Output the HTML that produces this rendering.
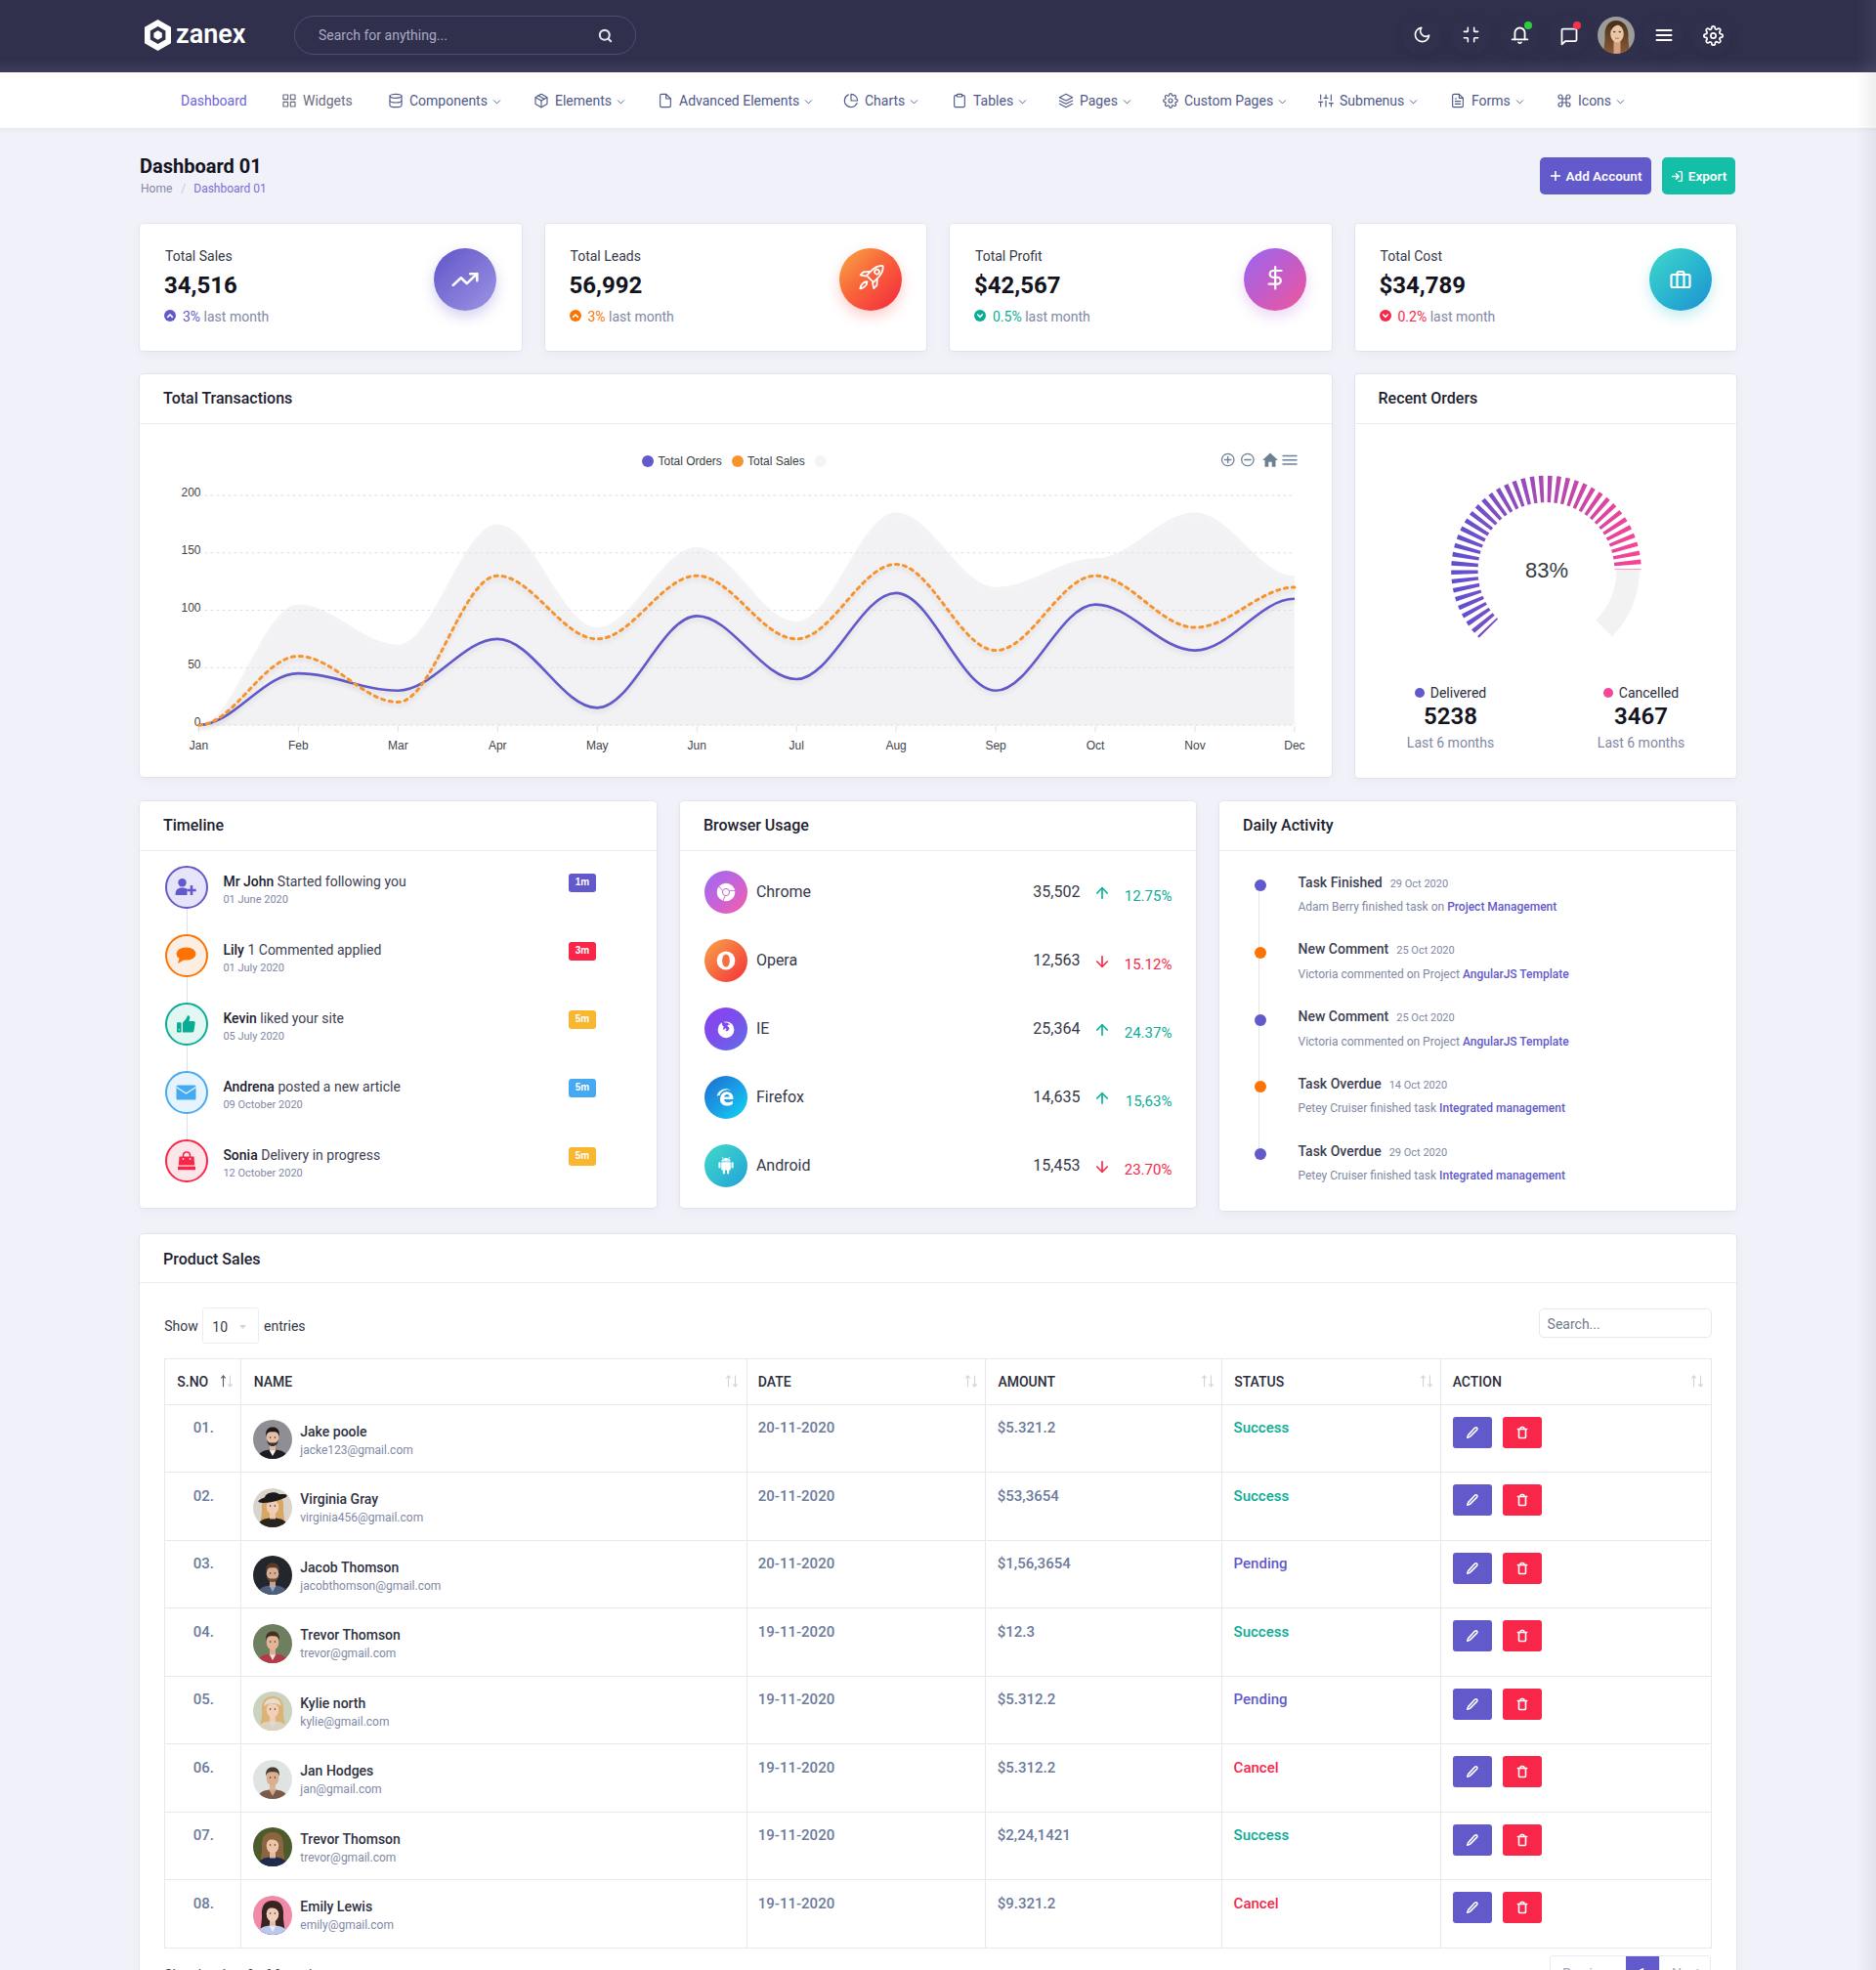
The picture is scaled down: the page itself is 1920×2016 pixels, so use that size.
<!DOCTYPE html>
<html><head><meta charset="utf-8"><title>Zanex Dashboard</title>
<style>
*{box-sizing:border-box;margin:0;padding:0}
html,body{width:1920px;height:2016px;overflow:hidden}
body{background:#f1f1f9;font-family:Roboto,"Liberation Sans",sans-serif;color:#1d212f;position:relative;font-size:14px}
.abs{position:absolute}
svg.fi{fill:none;stroke:currentColor;stroke-width:2;stroke-linecap:round;stroke-linejoin:round;display:block}
/* header */
#hdr{position:absolute;left:0;top:0;width:1920px;height:73.5px;background:linear-gradient(180deg,#30304d 0,#30304d 61px,#3e3b5a 73.5px)}
#logo{position:absolute;left:148px;top:20px;display:flex;align-items:center}
#logo span{color:#fff;font-size:27px;font-weight:600;letter-spacing:0;margin-left:5px;line-height:1;position:relative;top:-1px}
#search{position:absolute;left:301px;top:16px;width:350px;height:40px;border:1px solid #4f4f6e;border-radius:20px;}
#search .ph{position:absolute;left:24px;top:11px;font-size:14px;color:#a9a9c2}
#search svg{position:absolute;left:309px;top:11px;color:#e2e2ef}
.hi{position:absolute;top:16px;width:40px;height:40px;border-radius:50%;box-shadow:0 4px 12px rgba(0,0,0,0.08)}
.hi svg{position:absolute;left:11px;top:10px;color:#fff}
.dot{position:absolute;width:8px;height:8px;border-radius:50%}
/* nav */
#nav{position:absolute;left:0;top:73.5px;width:1920px;height:57.5px;background:#fff;box-shadow:0 2px 5px rgba(110,110,140,0.08)}
.ni{position:absolute;top:0;height:58px;padding-top:1.5px;display:flex;align-items:center;color:#4f5888;font-size:14px;white-space:nowrap}
.ni svg.ic{width:16px;height:16px;margin-right:6px;stroke-width:1.7}
.ni svg.ch{width:11px;height:11px;margin-left:4px;margin-top:2px;stroke-width:2}

.card{position:absolute;background:#fff;border-radius:4px;box-shadow:0 0 0 1px rgba(214,214,228,0.45),0 3px 10px rgba(140,140,180,0.08)}
.ch2{position:absolute;left:0;top:0;right:0;height:51px;border-bottom:1px solid #ebebf0}
.ch2 .t{position:absolute;left:24px;top:15px;font-size:16px;font-weight:500;color:#1d212f;line-height:20px}
.t14{font-size:14px;line-height:16px;position:absolute;white-space:nowrap}
.stat .lbl{position:absolute;left:26px;top:23px;font-size:14px;color:#353846;line-height:20px}
.stat .val{position:absolute;left:25px;top:48px;font-size:24px;font-weight:700;color:#14141f;line-height:30px}
.stat .sub{position:absolute;left:44px;top:84.5px;font-size:14px;color:#7f88a4;line-height:20px;white-space:nowrap}
.stat .si{position:absolute;left:25px;top:88px;width:12px;height:12px;border-radius:50%}
.stat .si svg{position:absolute;left:2px;top:2px}
.stat .ic{position:absolute;left:301px;top:25px;width:64px;height:64px;border-radius:50%}
.stat .ic svg{position:absolute;left:20px;top:20px}
.btn{position:absolute;height:38px;border-radius:5px;color:#fff;font-size:13.5px;font-weight:600;display:flex;align-items:center;justify-content:center;white-space:nowrap}

.leg{position:absolute;text-align:center;width:194px;white-space:nowrap}
.leg .a{font-size:14px;line-height:16px;color:#2b2d3b}
.leg .a i{display:inline-block;width:10px;height:10px;border-radius:50%;margin-right:6px;vertical-align:0px}
.leg .b{font-size:24px;font-weight:600;line-height:26px;color:#14141f;margin-top:2.5px}
.leg .c{font-size:14px;line-height:16px;color:#7f88a4;margin-top:6.5px}

.tlc{width:44.5px;height:44.5px;border:2px solid;border-radius:50%;display:flex;align-items:center;justify-content:center}
.tlt{font-size:14px;line-height:16px;color:#3d4052;white-space:nowrap}
.tlt b{font-weight:500;color:#1d212f}
.tld{font-size:11px;line-height:13px;color:#7f88a4;white-space:nowrap}
.tlb{width:28.7px;height:18.6px;border-radius:3px;color:#fff;font:bold 10px/18.6px "Liberation Sans",Arial,sans-serif;text-align:center}
.buc{width:44.5px;height:44.5px;border-radius:50%;display:flex;align-items:center;justify-content:center}
.bun,.buv{font-size:16px;line-height:18px;color:#363949;white-space:nowrap}
.bup{font-size:15px;line-height:18px;white-space:nowrap}
.dad{width:12px;height:12px;border-radius:50%}
.dat{font-size:14px;font-weight:500;line-height:16px;color:#3d4052;white-space:nowrap}
.dat span{font-size:11px;font-weight:400;color:#7f88a4;margin-left:8px}
.dax{font-size:12px;line-height:14px;color:#7f88a4;white-space:nowrap}
.dax a{color:#6259ca;font-weight:500}

.th{font-size:14px;font-weight:500;line-height:16px;color:#2b2d3b;white-space:nowrap}
.tno,.tdt,.tst{font-size:15px;font-weight:500;line-height:18px;color:#6c7a9c;white-space:nowrap}
.tnm{font-size:14px;font-weight:500;line-height:16px;color:#2f3242;white-space:nowrap}
.tem{font-size:12px;line-height:14px;color:#7f88a4;white-space:nowrap}
.abtn{width:40px;height:32px;border-radius:3px;display:flex;align-items:center;justify-content:center}
</style></head>
<body>
<div id="hdr">
  <div id="logo">
    <svg width="27" height="32" viewBox="0 0 27 32"><path fill="#fff" fill-rule="evenodd" d="M13.5 0 L27 7.8 V24.2 L13.5 32 L0 24.2 V7.8 Z M13.6 7 L21.4 11.5 V20.5 L13.6 25 L5.8 20.5 V11.5 Z M13.6 11.3 L17.8 13.7 V18.3 L13.6 20.7 L9.4 18.3 V13.7 Z"/></svg>
    <span>zanex</span>
  </div>
  <div id="search"><div class="ph">Search for anything...</div>
    <svg class="fi" width="17" height="17" viewBox="0 0 24 24" style="stroke-width:3"><circle cx="11" cy="11" r="7"/><line x1="20" y1="20" x2="16.2" y2="16.2"/></svg>
  </div>
  <div class="hi" style="left:1435px"><svg class="fi" width="19" height="19" viewBox="0 0 24 24"><path d="M21 12.79A9 9 0 1 1 11.21 3 7 7 0 0 0 21 12.79z"/></svg></div>
  <div class="hi" style="left:1485px"><svg class="fi" width="19" height="19" viewBox="0 0 24 24"><path d="M8 3v4a1 1 0 0 1-1 1H3m18 0h-4a1 1 0 0 1-1-1V3m0 18v-4a1 1 0 0 1 1-1h4M3 16h4a1 1 0 0 1 1 1v4"/></svg></div>
  <div class="hi" style="left:1535px"><svg class="fi" width="21" height="21" viewBox="0 0 24 24" style="left:9.5px;top:9px;stroke-width:2.1"><path d="M6.2 17.5V9.8a5.8 5.8 0 0 1 11.6 0v7.7"/><line x1="3" y1="17.5" x2="21" y2="17.5"/><path d="M10.4 21a1.9 1.9 0 0 0 3.2 0"/></svg><div class="dot" style="left:25px;top:6px;background:#2dce3c"></div></div>
  <div class="hi" style="left:1585px"><svg class="fi" width="20" height="20" viewBox="0 0 24 24" style="left:10.5px;top:11px;stroke-width:2.1"><path d="M21 16.5a1.5 1.5 0 0 1-1.5 1.5H7.5L3 22V4.5A1.5 1.5 0 0 1 4.5 3h15A1.5 1.5 0 0 1 21 4.5z"/></svg><div class="dot" style="left:25px;top:6px;background:#f5334f"></div></div>
  <svg class="abs" style="left:1635px;top:16.5px" width="38" height="38" viewBox="0 0 38 38"><defs><clipPath id="avc"><circle cx="19" cy="19" r="19"/></clipPath><linearGradient id="hairg" x1="0" y1="0" x2="0" y2="1"><stop offset="0" stop-color="#4a301d"/><stop offset="1" stop-color="#8a5a32"/></linearGradient></defs><g clip-path="url(#avc)"><rect width="38" height="38" fill="#9c9c9a"/><path d="M19 4 C10 4 7 12 7.5 20 C8 28 5 33 8 38 H31 C34 33 31 28 31.5 20 C32 12 28 4 19 4Z" fill="url(#hairg)"/><rect x="16.5" y="24" width="7" height="14" fill="#d4a283"/><ellipse cx="20" cy="17.5" rx="6.8" ry="9" fill="#e8c6a6"/><ellipse cx="17.2" cy="15.6" rx="1.3" ry="0.8" fill="#5a4035"/><ellipse cx="22.8" cy="15.6" rx="1.3" ry="0.8" fill="#5a4035"/><ellipse cx="20" cy="22.2" rx="2.2" ry="0.9" fill="#c98a86"/><path d="M12 8 C15 5 24 5 27 9 C24 7 17 8 14 14 Z" fill="#4a301d"/></g></svg>
  <div class="hi" style="left:1682px"><svg class="fi" width="20" height="20" viewBox="0 0 24 24" style="stroke-width:2.4"><line x1="3" y1="6" x2="21" y2="6"/><line x1="3" y1="12" x2="21" y2="12"/><line x1="3" y1="18" x2="21" y2="18"/></svg></div>
  <div class="hi" style="left:1732px"><svg class="fi" width="21" height="21" viewBox="0 0 24 24"><circle cx="12" cy="12" r="3"/><path d="M19.4 15a1.65 1.65 0 0 0 .33 1.82l.06.06a2 2 0 0 1 0 2.830 2 2 0 0 1-2.83 0l-.06-.06a1.65 1.65 0 0 0-1.82-.33 1.65 1.65 0 0 0-1 1.51V21a2 2 0 0 1-2 2 2 2 0 0 1-2-2v-.09A1.65 1.65 0 0 0 9 19.4a1.65 1.65 0 0 0-1.82.33l-.06.06a2 2 0 0 1-2.83 0 2 2 0 0 1 0-2.83l.06-.06a1.65 1.650 0 0 0 .33-1.82 1.65 1.65 0 0 0-1.51-1H3a2 2 0 0 1-2-2 2 2 0 0 1 2-2h.09A1.65 1.65 0 0 0 4.6 9a1.65 1.65 0 0 0-.33-1.82l-.06-.06a2 2 0 0 1 0-2.83 2 2 0 0 1 2.83 0l.06.06a1.65 1.65 0 0 0 1.82.33H9a1.65 1.65 0 0 0 1-1.51V3a2 2 0 0 1 2-2 2 2 0 0 1 2 2v.09a1.65 1.65 0 0 0 1 1.51 1.65 1.65 0 0 0 1.82-.33l.06-.06a2 2 0 0 1 2.83 0 2 2 0 0 1 0 2.83l-.06.06a1.65 1.65 0 0 0-.33 1.82V9a1.65 1.65 0 0 0 1.51 1H21a2 2 0 0 1 2 2 2 2 0 0 1-2 2h-.09a1.65 1.65 0 0 0-1.51 1z"/></svg></div>
</div>

<div id="nav">
  <div class="ni" style="left:185px;color:#6a62d6">Dashboard</div>
  <div class="ni" style="left:288px;color:#686b80"><svg class="fi ic" viewBox="0 0 24 24"><rect x="3" y="3" width="7" height="7"/><rect x="14" y="3" width="7" height="7"/><rect x="14" y="14" width="7" height="7"/><rect x="3" y="14" width="7" height="7"/></svg>Widgets</div>
  <div class="ni" style="left:397px"><svg class="fi ic" viewBox="0 0 24 24"><ellipse cx="12" cy="5" rx="9" ry="3"/><path d="M21 12c0 1.66-4 3-9 3s-9-1.34-9-3"/><path d="M3 5v14c0 1.66 4 3 9 3s9-1.34 9-3V5"/></svg>Components<svg class="fi ch" viewBox="0 0 24 24"><polyline points="5 8 12 15 19 8"/></svg></div>
  <div class="ni" style="left:546px"><svg class="fi ic" viewBox="0 0 24 24"><line x1="16.5" y1="9.4" x2="7.5" y2="4.21"/><path d="M21 16V8a2 2 0 0 0-1-1.73l-7-4a2 2 0 0 0-2 0l-7 4A2 2 0 0 0 3 8v8a2 2 0 0 0 1 1.73l7 4a2 2 0 0 0 2 0l7-4A2 2 0 0 0 21 16z"/><polyline points="3.27 6.96 12 12.01 20.73 6.96"/><line x1="12" y1="22.08" x2="12" y2="12"/></svg>Elements<svg class="fi ch" viewBox="0 0 24 24"><polyline points="5 8 12 15 19 8"/></svg></div>
  <div class="ni" style="left:673px"><svg class="fi ic" viewBox="0 0 24 24"><path d="M13 2H6a2 2 0 0 0-2 2v16a2 2 0 0 0 2 2h12a2 2 0 0 0 2-2V9z"/><polyline points="13 2 13 9 20 9"/></svg>Advanced Elements<svg class="fi ch" viewBox="0 0 24 24"><polyline points="5 8 12 15 19 8"/></svg></div>
  <div class="ni" style="left:863px"><svg class="fi ic" viewBox="0 0 24 24"><path d="M21.21 15.89A10 10 0 1 1 8 2.83"/><path d="M22 12A10 10 0 0 0 12 2v10z"/></svg>Charts<svg class="fi ch" viewBox="0 0 24 24"><polyline points="5 8 12 15 19 8"/></svg></div>
  <div class="ni" style="left:974px"><svg class="fi ic" viewBox="0 0 24 24"><path d="M16 4h2a2 2 0 0 1 2 2v14a2 2 0 0 1-2 2H6a2 2 0 0 1-2-2V6a2 2 0 0 1 2-2h2"/><rect x="8" y="2" width="8" height="4" rx="1" ry="1"/></svg>Tables<svg class="fi ch" viewBox="0 0 24 24"><polyline points="5 8 12 15 19 8"/></svg></div>
  <div class="ni" style="left:1083px"><svg class="fi ic" viewBox="0 0 24 24"><polygon points="12 2 2 7 12 12 22 7 12 2"/><polyline points="2 17 12 22 22 17"/><polyline points="2 12 12 17 22 12"/></svg>Pages<svg class="fi ch" viewBox="0 0 24 24"><polyline points="5 8 12 15 19 8"/></svg></div>
  <div class="ni" style="left:1190px"><svg class="fi ic" viewBox="0 0 24 24"><circle cx="12" cy="12" r="3"/><path d="M19.4 15a1.65 1.65 0 0 0 .33 1.82l.06.06a2 2 0 0 1 0 2.83 2 2 0 0 1-2.83 0l-.06-.06a1.65 1.65 0 0 0-1.82-.33 1.65 1.65 0 0 0-1 1.51V21a2 2 0 0 1-2 2 2 2 0 0 1-2-2v-.09A1.65 1.65 0 0 0 9 19.4a1.65 1.65 0 0 0-1.82.33l-.06.06a2 2 0 0 1-2.83 0 2 2 0 0 1 0-2.83l.06-.06a1.65 1.65 0 0 0 .33-1.82 1.65 1.65 0 0 0-1.51-1H3a2 2 0 0 1-2-2 2 2 0 0 1 2-2h.09A1.65 1.65 0 0 0 4.6 9a1.65 1.65 0 0 0-.33-1.82l-.06-.06a2 2 0 0 1 0-2.83 2 2 0 0 1 2.83 0l.06.06a1.65 1.65 0 0 0 1.82.33H9a1.65 1.65 0 0 0 1-1.51V3a2 2 0 0 1 2-2 2 2 0 0 1 2 2v.09a1.65 1.65 0 0 0 1 1.51 1.65 1.65 0 0 0 1.82-.33l.06-.06a2 2 0 0 1 2.83 0 2 2 0 0 1 0 2.83l-.06.06a1.65 1.65 0 0 0-.33 1.82V9a1.65 1.65 0 0 0 1.51 1H21a2 2 0 0 1 2 2 2 2 0 0 1-2 2h-.09a1.65 1.65 0 0 0-1.51 1z"/></svg>Custom Pages<svg class="fi ch" viewBox="0 0 24 24"><polyline points="5 8 12 15 19 8"/></svg></div>
  <div class="ni" style="left:1349px"><svg class="fi ic" viewBox="0 0 24 24"><line x1="4" y1="21" x2="4" y2="14"/><line x1="4" y1="10" x2="4" y2="3"/><line x1="12" y1="21" x2="12" y2="12"/><line x1="12" y1="8" x2="12" y2="3"/><line x1="20" y1="21" x2="20" y2="16"/><line x1="20" y1="12" x2="20" y2="3"/><line x1="1" y1="14" x2="7" y2="14"/><line x1="9" y1="8" x2="15" y2="8"/><line x1="17" y1="16" x2="23" y2="16"/></svg>Submenus<svg class="fi ch" viewBox="0 0 24 24"><polyline points="5 8 12 15 19 8"/></svg></div>
  <div class="ni" style="left:1484px"><svg class="fi ic" viewBox="0 0 24 24"><path d="M14 2H6a2 2 0 0 0-2 2v16a2 2 0 0 0 2 2h12a2 2 0 0 0 2-2V8z"/><polyline points="14 2 14 8 20 8"/><line x1="16" y1="13" x2="8" y2="13"/><line x1="16" y1="17" x2="8" y2="17"/><polyline points="10 9 9 9 8 9"/></svg>Forms<svg class="fi ch" viewBox="0 0 24 24"><polyline points="5 8 12 15 19 8"/></svg></div>
  <div class="ni" style="left:1593px"><svg class="fi ic" viewBox="0 0 24 24"><path d="M18 3a3 3 0 0 0-3 3v12a3 3 0 0 0 3 3 3 3 0 0 0 3-3 3 3 0 0 0-3-3H6a3 3 0 0 0-3 3 3 3 0 0 0 3 3 3 3 0 0 0 3-3V6a3 3 0 0 0-3-3 3 3 0 0 0-3 3 3 3 0 0 0 3 3h12a3 3 0 0 0 3-3 3 3 0 0 0-3-3z"/></svg>Icons<svg class="fi ch" viewBox="0 0 24 24"><polyline points="5 8 12 15 19 8"/></svg></div>
</div>


<!-- page header -->
<div class="abs" style="left:143px;top:158px;font-size:20px;font-weight:700;line-height:24px;color:#14141f">Dashboard 01</div>
<div class="abs" style="left:144px;top:186px;font-size:12px;line-height:15px;color:#8289a6;white-space:nowrap">Home<span style="color:#c9cbd9;margin:0 8px 0 9px">/</span><span style="color:#7770d6">Dashboard 01</span></div>
<div class="btn" style="left:1576px;top:161px;width:114px;background:#6259ca"><svg class="fi" width="12" height="12" viewBox="0 0 24 24" style="stroke-width:3.2;margin-right:5px;stroke-linecap:butt"><line x1="12" y1="2" x2="12" y2="22"/><line x1="2" y1="12" x2="22" y2="12"/></svg>Add Account</div>
<div class="btn" style="left:1701px;top:161px;width:75px;background:#13bfa6"><svg class="fi" width="13" height="13" viewBox="0 0 24 24" style="stroke-width:2.6;margin-right:5px"><path d="M15 3h4a2 2 0 0 1 2 2v14a2 2 0 0 1-2 2h-4"/><polyline points="10 17 15 12 10 7"/><line x1="15" y1="12" x2="3" y2="12"/></svg>Export</div>

<!-- stat cards -->
<div class="card stat" style="left:143px;top:229px;width:390.5px;height:130px">
  <div class="lbl">Total Sales</div><div class="val">34,516</div>
  <div class="si" style="background:#6259ca"><svg class="fi" width="8" height="8" viewBox="0 0 24 24" style="color:#fff;stroke-width:5"><polyline points="5 16 12 9 19 16"/></svg></div>
  <div class="sub"><span style="color:#6259ca">3%</span> last month</div>
  <div class="ic" style="background:linear-gradient(135deg,#5f55c8 0%,#9e95e4 100%);box-shadow:0 6px 14px rgba(98,89,202,0.28)"><svg class="fi" width="28" height="28" viewBox="0 0 24 24" style="color:#fff;stroke-width:2.2;margin:-2px 0 0 -2px"><polyline points="22.5 7 13.5 15.5 8.5 10.5 1.5 17"/><polyline points="16.5 7 22.5 7 22.5 13"/></svg></div>
</div>
<div class="card stat" style="left:557.5px;top:229px;width:390.5px;height:130px">
  <div class="lbl">Total Leads</div><div class="val">56,992</div>
  <div class="si" style="background:#fc7303"><svg class="fi" width="8" height="8" viewBox="0 0 24 24" style="color:#fff;stroke-width:5"><polyline points="5 16 12 9 19 16"/></svg></div>
  <div class="sub"><span style="color:#fc7303">3%</span> last month</div>
  <div class="ic" style="background:linear-gradient(135deg,#f9a843 0%,#f9653a 45%,#f3263e 100%);box-shadow:0 6px 14px rgba(247,80,60,0.28)"><svg class="fi" width="27" height="27" viewBox="0 0 27 27" style="color:#fff;stroke-width:1.6;position:absolute;left:19px;top:15.5px"><g transform="translate(25.6 2.1) rotate(45) scale(1.13)"><path d="M0 0 C3.6 2.6 4.4 7 4.4 11.5 V16.5 H-4.4 V11.5 C-4.4 7 -3.6 2.6 0 0 Z"/><circle cx="0" cy="7.6" r="2.1"/><path d="M-4.4 11.6 L-8.6 16.4 V20.2 L-4.4 17.6"/><path d="M4.4 11.6 L8.6 16.4 V20.2 L4.4 17.6"/><path d="M0 20.2 C2 22.4 2.1 26 0 29.2 C-2.1 26 -2 22.4 0 20.2 Z"/></g></svg></div>
</div>
<div class="card stat" style="left:972px;top:229px;width:390.5px;height:130px">
  <div class="lbl">Total Profit</div><div class="val">$42,567</div>
  <div class="si" style="background:#09ad95"><svg class="fi" width="8" height="8" viewBox="0 0 24 24" style="color:#fff;stroke-width:5"><polyline points="5 9 12 16 19 9"/></svg></div>
  <div class="sub"><span style="color:#09ad95">0.5%</span> last month</div>
  <div class="ic" style="background:linear-gradient(135deg,#9a66f2 0%,#c35cc7 50%,#f0579b 100%);box-shadow:0 6px 14px rgba(180,90,220,0.25)"><svg class="fi" width="24" height="24" viewBox="0 0 24 24" style="color:#fff;stroke-width:2.2;overflow:visible"><line x1="12.2" y1="-1" x2="12.2" y2="21.6"/><path d="M18.6 3H10a3.4 3.4 0 0 0 0 6.8h4.4a3.4 3.4 0 0 1 0 6.8H5.6"/></svg></div>
</div>
<div class="card stat" style="left:1386.5px;top:229px;width:390.5px;height:130px">
  <div class="lbl">Total Cost</div><div class="val">$34,789</div>
  <div class="si" style="background:#f82649"><svg class="fi" width="8" height="8" viewBox="0 0 24 24" style="color:#fff;stroke-width:5"><polyline points="5 9 12 16 19 9"/></svg></div>
  <div class="sub"><span style="color:#f82649">0.2%</span> last month</div>
  <div class="ic" style="background:linear-gradient(135deg,#40d8c9 0%,#28b3d0 55%,#1e8fd0 100%);box-shadow:0 6px 14px rgba(40,190,210,0.28)"><svg class="fi" width="24" height="24" viewBox="0 0 24 24" style="color:#fff;stroke-width:2.2"><rect x="2.5" y="7" width="19" height="13" rx="1.5"/><path d="M15.5 20V5.5a1.5 1.5 0 0 0-1.5-1.5h-4a1.5 1.5 0 0 0-1.5 1.5V20"/></svg></div>
</div>

<!-- row 2 -->
<div class="card" style="left:143px;top:383px;width:1219.5px;height:412px;overflow:hidden">
  <div class="ch2"><div class="t">Total Transactions</div></div>
  <svg class="abs" style="left:0;top:0" width="1219.5" height="412" viewBox="143 383 1219.5 412">
<defs><filter id="lsh" x="-5%" y="-20%" width="110%" height="140%"><feDropShadow dx="0" dy="3" stdDeviation="2" flood-color="#000" flood-opacity="0.09"/></filter>
<filter id="ash" x="-5%" y="-20%" width="110%" height="140%"><feDropShadow dx="0" dy="3" stdDeviation="3" flood-color="#000" flood-opacity="0.03"/></filter></defs>
<line x1="203.4" y1="742.00" x2="1325.0" y2="742.00" stroke="#dedee6" stroke-width="1" stroke-dasharray="3 3"/><line x1="203.4" y1="683.25" x2="1325.0" y2="683.25" stroke="#dedee6" stroke-width="1" stroke-dasharray="3 3"/><line x1="203.4" y1="624.50" x2="1325.0" y2="624.50" stroke="#dedee6" stroke-width="1" stroke-dasharray="3 3"/><line x1="203.4" y1="565.75" x2="1325.0" y2="565.75" stroke="#dedee6" stroke-width="1" stroke-dasharray="3 3"/><line x1="203.4" y1="507.00" x2="1325.0" y2="507.00" stroke="#dedee6" stroke-width="1" stroke-dasharray="3 3"/>
<path d="M203.40 742.00 C239.09 742.00 269.67 618.62 305.36 618.62 C341.05 618.62 371.63 659.75 407.32 659.75 C443.01 659.75 473.59 536.38 509.28 536.38 C544.97 536.38 575.55 642.12 611.24 642.12 C646.93 642.12 677.51 559.88 713.20 559.88 C748.89 559.88 779.47 636.25 815.16 636.25 C850.85 636.25 881.43 524.62 917.12 524.62 C952.81 524.62 983.39 601.00 1019.08 601.00 C1054.77 601.00 1085.35 571.62 1121.04 571.62 C1156.73 571.62 1187.31 524.62 1223.00 524.62 C1258.69 524.62 1289.27 589.25 1324.96 589.25 L1324.96 742.0 L203.40 742.0 Z" fill="#e2e2e7" fill-opacity="0.42" filter="url(#ash)"/>
<line x1="203.40" y1="743.0" x2="203.40" y2="749.0" stroke="#e0e0e6" stroke-width="1"/><line x1="305.36" y1="743.0" x2="305.36" y2="749.0" stroke="#e0e0e6" stroke-width="1"/><line x1="407.32" y1="743.0" x2="407.32" y2="749.0" stroke="#e0e0e6" stroke-width="1"/><line x1="509.28" y1="743.0" x2="509.28" y2="749.0" stroke="#e0e0e6" stroke-width="1"/><line x1="611.24" y1="743.0" x2="611.24" y2="749.0" stroke="#e0e0e6" stroke-width="1"/><line x1="713.20" y1="743.0" x2="713.20" y2="749.0" stroke="#e0e0e6" stroke-width="1"/><line x1="815.16" y1="743.0" x2="815.16" y2="749.0" stroke="#e0e0e6" stroke-width="1"/><line x1="917.12" y1="743.0" x2="917.12" y2="749.0" stroke="#e0e0e6" stroke-width="1"/><line x1="1019.08" y1="743.0" x2="1019.08" y2="749.0" stroke="#e0e0e6" stroke-width="1"/><line x1="1121.04" y1="743.0" x2="1121.04" y2="749.0" stroke="#e0e0e6" stroke-width="1"/><line x1="1223.00" y1="743.0" x2="1223.00" y2="749.0" stroke="#e0e0e6" stroke-width="1"/><line x1="1324.96" y1="743.0" x2="1324.96" y2="749.0" stroke="#e0e0e6" stroke-width="1"/>
<g font-family="'Liberation Sans',Arial,sans-serif" font-size="12" fill="#3f4449"><text x="203.40" y="766.6" text-anchor="middle">Jan</text><text x="305.36" y="766.6" text-anchor="middle">Feb</text><text x="407.32" y="766.6" text-anchor="middle">Mar</text><text x="509.28" y="766.6" text-anchor="middle">Apr</text><text x="611.24" y="766.6" text-anchor="middle">May</text><text x="713.20" y="766.6" text-anchor="middle">Jun</text><text x="815.16" y="766.6" text-anchor="middle">Jul</text><text x="917.12" y="766.6" text-anchor="middle">Aug</text><text x="1019.08" y="766.6" text-anchor="middle">Sep</text><text x="1121.04" y="766.6" text-anchor="middle">Oct</text><text x="1223.00" y="766.6" text-anchor="middle">Nov</text><text x="1324.96" y="766.6" text-anchor="middle">Dec</text><text x="205.5" y="743.20" text-anchor="end">0</text><text x="205.5" y="684.45" text-anchor="end">50</text><text x="205.5" y="625.70" text-anchor="end">100</text><text x="205.5" y="566.95" text-anchor="end">150</text><text x="205.5" y="508.20" text-anchor="end">200</text></g>
<path d="M203.40 742.00 C239.09 742.00 269.67 689.12 305.36 689.12 C341.05 689.12 371.63 706.75 407.32 706.75 C443.01 706.75 473.59 653.88 509.28 653.88 C544.97 653.88 575.55 724.38 611.24 724.38 C646.93 724.38 677.51 630.38 713.20 630.38 C748.89 630.38 779.47 695.00 815.16 695.00 C850.85 695.00 881.43 606.88 917.12 606.88 C952.81 606.88 983.39 706.75 1019.08 706.75 C1054.77 706.75 1085.35 618.62 1121.04 618.62 C1156.73 618.62 1187.31 665.62 1223.00 665.62 C1258.69 665.62 1289.27 612.75 1324.96 612.75" fill="none" stroke="#6259ca" stroke-width="2.6" filter="url(#lsh)"/>
<path d="M203.40 742.00 C239.09 742.00 269.67 671.50 305.36 671.50 C341.05 671.50 371.63 718.50 407.32 718.50 C443.01 718.50 473.59 589.25 509.28 589.25 C544.97 589.25 575.55 653.88 611.24 653.88 C646.93 653.88 677.51 589.25 713.20 589.25 C748.89 589.25 779.47 653.88 815.16 653.88 C850.85 653.88 881.43 577.50 917.12 577.50 C952.81 577.50 983.39 665.62 1019.08 665.62 C1054.77 665.62 1085.35 589.25 1121.04 589.25 C1156.73 589.25 1187.31 642.12 1223.00 642.12 C1258.69 642.12 1289.27 601.00 1324.96 601.00" fill="none" stroke="#f7932f" stroke-width="3" stroke-dasharray="3.2 4.8" stroke-linecap="round" filter="url(#lsh)"/>
<g font-family="'Liberation Sans',Arial,sans-serif" font-size="12" fill="#373d3f">
<circle cx="663" cy="472" r="6" fill="#6259ca"/><text x="673.5" y="476.2">Total Orders</text>
<circle cx="755" cy="472" r="6" fill="#f7932f"/><text x="765" y="476.2">Total Sales</text>
<circle cx="839.5" cy="472" r="6" fill="#f4f4f6"/></g>
<g stroke="#6e8192" fill="none" stroke-width="1.3"><circle cx="1256.7" cy="470.5" r="6.2"/><line x1="1253" y1="470.5" x2="1260.4" y2="470.5"/><line x1="1256.7" y1="466.8" x2="1256.7" y2="474.2"/>
<circle cx="1276.9" cy="470.5" r="6.2"/><line x1="1273.2" y1="470.5" x2="1280.6" y2="470.5"/></g>
<path d="M1300 463.5 L1292 471 L1294.5 471 L1294.5 477.7 L1298.3 477.7 L1298.3 472.8 L1301.7 472.8 L1301.7 477.7 L1305.5 477.7 L1305.5 471 L1308 471 Z" fill="#6e8192"/>
<g stroke="#6e8192" stroke-width="1.6"><line x1="1312.5" y1="466.5" x2="1327.5" y2="466.5"/><line x1="1312.5" y1="470.8" x2="1327.5" y2="470.8"/><line x1="1312.5" y1="475" x2="1327.5" y2="475"/></g>
</svg>
</div>
<div class="card" style="left:1386.5px;top:383px;width:390.5px;height:413px;overflow:hidden">
  <div class="ch2"><div class="t">Recent Orders</div></div>
  <svg class="abs" style="left:0;top:0" width="390.5" height="413" viewBox="1386.5 383 390.5 413">
<defs><linearGradient id="rg" gradientUnits="userSpaceOnUse" x1="1484" y1="0" x2="1681" y2="0"><stop offset="0" stop-color="#5a50d2"/><stop offset="1" stop-color="#fe4392"/></linearGradient></defs>
<path d="M1665.59 582.69 A83.6 83.6 0 0 1 1641.11 643.11" fill="none" stroke="#f2f2f2" stroke-width="23.6"/>
<path d="M1522.89 643.11 A83.6 83.6 0 1 1 1665.59 582.69" fill="none" stroke="url(#rg)" stroke-width="27.4" stroke-dasharray="4 4" stroke-dashoffset="1.9"/>
<text x="1582.6" y="590.8" text-anchor="middle" font-family="'Liberation Sans',Arial,sans-serif" font-size="22" fill="#373d3f">83%</text>
</svg>
  <div class="leg" style="left:1px;top:318px"><div class="a"><i style="background:#6259ca"></i>Delivered</div><div class="b">5238</div><div class="c">Last 6 months</div></div>
  <div class="leg" style="left:196px;top:318px"><div class="a"><i style="background:#f5479a"></i>Cancelled</div><div class="b">3467</div><div class="c">Last 6 months</div></div>
</div>
<!-- row 3 -->
<div class="card" style="left:143px;top:819.5px;width:528.7px;height:416.5px">
<div class="ch2"><div class="t">Timeline</div></div>
<div class="abs" style="left:47.8px;top:88.5px;width:1px;height:280px;background:#dfe2ec"></div>
<div class="abs tlc" style="left:25.5px;top:66.25px;border-color:#6259ca;background:#e6e4f8"><svg width="23" height="18" viewBox="0 0 23 18"><circle cx="7.5" cy="4.3" r="4.2" fill="#6259ca"/><path d="M0.5 17 C0.5 12 2.5 9.6 7.5 9.6 C10 9.6 11.5 10.2 12.5 11 V17 Z" fill="#6259ca"/><path d="M17 7 V17 M12.3 12 H21.7" stroke="#6259ca" stroke-width="2.6" stroke-linecap="butt"/></svg></div><div class="abs tlt" style="left:85.4px;top:74.70px"><b>Mr John</b> Started following you</div><div class="abs tld" style="left:85.4px;top:94.00px">01 June 2020</div><div class="abs tlb" style="left:438.7px;top:74.60px;background:#6259ca">1m</div>
<div class="abs tlc" style="left:25.5px;top:136.25px;border-color:#fc7303;background:#fdeee3"><svg width="21" height="18" viewBox="0 0 21 18"><ellipse cx="10.5" cy="7" rx="10" ry="6.6" fill="#fc7303"/><path d="M4 11 L1.8 17 L9 13 Z" fill="#fc7303"/></svg></div><div class="abs tlt" style="left:85.4px;top:144.70px"><b>Lily</b> 1 Commented applied</div><div class="abs tld" style="left:85.4px;top:164.00px">01 July 2020</div><div class="abs tlb" style="left:438.7px;top:144.60px;background:#f82649">3m</div>
<div class="abs tlc" style="left:25.5px;top:206.25px;border-color:#09ad95;background:#e2f6f2"><svg width="19" height="18" viewBox="0 0 19 18"><rect x="0" y="7.2" width="4.6" height="10.3" rx="0.8" fill="#09ad95"/><circle cx="2.3" cy="14.8" r="0.7" fill="#e2f6f2"/><path d="M6 7.5 L9.5 3.5 C10.5 2.3 10.2 0.8 11.2 0.3 C12.6 -0.2 13.8 1.2 13.2 3.2 L12.4 6 H17 C18.2 6 19 7 18.7 8.1 L17.5 15.8 C17.3 16.8 16.5 17.5 15.5 17.5 H6 Z" fill="#09ad95"/></svg></div><div class="abs tlt" style="left:85.4px;top:214.70px"><b>Kevin</b> liked your site</div><div class="abs tld" style="left:85.4px;top:234.00px">05 July 2020</div><div class="abs tlb" style="left:438.7px;top:214.60px;background:#f7b731">5m</div>
<div class="abs tlc" style="left:25.5px;top:276.25px;border-color:#45aaf2;background:#e7f3fd"><svg width="21" height="16" viewBox="0 0 21 16"><rect x="0.5" y="0.5" width="20" height="15" rx="1.5" fill="#45aaf2"/><path d="M0.5 2.5 L10.5 9 L20.5 2.5" fill="none" stroke="#e7f3fd" stroke-width="1.4"/></svg></div><div class="abs tlt" style="left:85.4px;top:284.70px"><b>Andrena</b> posted a new article</div><div class="abs tld" style="left:85.4px;top:304.00px">09 October 2020</div><div class="abs tlb" style="left:438.7px;top:284.60px;background:#45aaf2">5m</div>
<div class="abs tlc" style="left:25.5px;top:346.25px;border-color:#f82649;background:#fde6ea"><svg width="20" height="20" viewBox="0 0 20 20"><path d="M6.5 7 V4.5 C6.5 2.3 8 1 10 1 C12 1 13.5 2.3 13.5 4.5 V7" fill="none" stroke="#f82649" stroke-width="1.6"/><path d="M2.5 5.5 H17.5 L18.2 14.5 H1.8 Z" fill="#f82649"/><rect x="1" y="15.6" width="18" height="3.6" fill="#f82649"/><circle cx="6.5" cy="8" r="0.9" fill="#fde6ea"/><circle cx="13.5" cy="8" r="0.9" fill="#fde6ea"/></svg></div><div class="abs tlt" style="left:85.4px;top:354.70px"><b>Sonia</b> Delivery in progress</div><div class="abs tld" style="left:85.4px;top:374.00px">12 October 2020</div><div class="abs tlb" style="left:438.7px;top:354.60px;background:#f7b731">5m</div>
</div>
<div class="card" style="left:695.9px;top:819.5px;width:528px;height:416.5px">
<div class="ch2"><div class="t">Browser Usage</div></div>
<div class="abs buc" style="left:25px;top:71.25px;background:linear-gradient(135deg,#9a6cf2 0%,#c862d8 50%,#f55fa6 100%)"><svg width="20" height="20" viewBox="0 0 20 20"><circle cx="10" cy="10" r="9.3" fill="#fff"/><circle cx="10" cy="10" r="3.6" fill="none" stroke="#c766d6" stroke-width="1"/><path d="M6.6 8.6 L2.8 3.9 M13.4 8.4 H19 M9.2 13.5 L6.9 19" stroke="#c766d6" stroke-width="0.9" fill="none"/></svg></div><div class="abs bun" style="left:78px;top:84.40px">Chrome</div><div class="abs buv" style="right:118.5px;top:84.40px">35,502</div><svg class="abs fi" style="left:422.85px;top:85.05px;color:#09ad95;stroke-width:2.2" width="18" height="18" viewBox="0 0 24 24"><polyline points="5 12 12 5 19 12"/><line x1="12" y1="5" x2="12" y2="19"/></svg><div class="abs bup" style="right:24.5px;top:88.90px;color:#09ad95">12.75%</div>
<div class="abs buc" style="left:25px;top:141.25px;background:linear-gradient(135deg,#f8a64a 0%,#f66a3f 50%,#f42f3d 100%)"><svg width="20" height="20" viewBox="0 0 20 20"><circle cx="10" cy="10" r="9.4" fill="#fff"/><ellipse cx="10" cy="10" rx="3.9" ry="6.6" fill="#f6703f"/></svg></div><div class="abs bun" style="left:78px;top:154.40px">Opera</div><div class="abs buv" style="right:118.5px;top:154.40px">12,563</div><svg class="abs fi" style="left:422.85px;top:155.05px;color:#f82649;stroke-width:2.2" width="18" height="18" viewBox="0 0 24 24"><polyline points="5 12 12 19 19 12"/><line x1="12" y1="5" x2="12" y2="19"/></svg><div class="abs bup" style="right:24.5px;top:158.90px;color:#f82649">15.12%</div>
<div class="abs buc" style="left:25px;top:211.25px;background:linear-gradient(135deg,#8d3ff0 0%,#7a50ec 50%,#6070e6 100%)"><svg width="20" height="20" viewBox="0 0 20 20"><circle cx="10" cy="10.8" r="8.4" fill="#fff"/><path d="M5.8 1.6 C7 3 8 3.4 9.8 3.4 C12 3.3 13.6 4.3 14 6 C12.8 5.4 11.2 5.8 11.5 7 C11.8 8 13.4 8 13.4 9.5 C13.4 11.5 11 12.6 9.2 12 C10.8 11.2 10.8 9.8 9.6 9.5 C8.5 9.2 7.6 10.6 8.4 11.8 C6.8 10.5 6.8 8.8 8 7.6 C7 7.2 6.2 6.4 6 5.2 Z" fill="#7f4aee"/></svg></div><div class="abs bun" style="left:78px;top:224.40px">IE</div><div class="abs buv" style="right:118.5px;top:224.40px">25,364</div><svg class="abs fi" style="left:422.85px;top:225.05px;color:#09ad95;stroke-width:2.2" width="18" height="18" viewBox="0 0 24 24"><polyline points="5 12 12 5 19 12"/><line x1="12" y1="5" x2="12" y2="19"/></svg><div class="abs bup" style="right:24.5px;top:228.90px;color:#09ad95">24.37%</div>
<div class="abs buc" style="left:25px;top:281.25px;background:linear-gradient(135deg,#1c6dd2 0%,#1aa2e6 55%,#0fd8f4 100%)"><svg width="22" height="20" viewBox="0 0 22 20"><path d="M5 12.2 C5 16.5 8.6 18.8 12.6 18.6 C14.8 18.5 16.6 17.9 17.8 17 V13.6 C16.4 14.6 14.8 15.2 13 15.2 C10.8 15.2 9.2 14 9 12.1 H18.3 C18.6 10.6 18.5 8.9 17.6 7.4 C16.3 5.2 13.8 4 11.1 4.2 C7.6 4.5 5 7.8 5 12.2 Z M9.1 9.4 C9.4 7.9 10.6 7 12.1 7 C13.7 7 14.7 8 14.6 9.4 Z" fill="#fff" fill-rule="evenodd"/><path d="M1.6 8.8 C2.6 4.2 6.6 1 11.4 1.2 C13.8 1.3 15.8 2.3 17 3.6 C14.2 1.8 9.8 1.8 6.8 4.6 C5.6 5.7 5 6.8 4.6 8.2 C3.8 7.6 2.6 7.9 1.6 8.8 Z" fill="#fff"/></svg></div><div class="abs bun" style="left:78px;top:294.40px">Firefox</div><div class="abs buv" style="right:118.5px;top:294.40px">14,635</div><svg class="abs fi" style="left:422.85px;top:295.05px;color:#09ad95;stroke-width:2.2" width="18" height="18" viewBox="0 0 24 24"><polyline points="5 12 12 5 19 12"/><line x1="12" y1="5" x2="12" y2="19"/></svg><div class="abs bup" style="right:24.5px;top:298.90px;color:#09ad95">15,63%</div>
<div class="abs buc" style="left:25px;top:351.25px;background:linear-gradient(135deg,#40dac8 0%,#30bcd2 55%,#22a0d8 100%)"><svg width="18" height="20" viewBox="0 0 18 20"><path d="M4.2 5.6 C4.6 3.4 6.6 2 9 2 C11.4 2 13.4 3.4 13.8 5.6 Z" fill="#fff"/><path d="M6 2.6 L4.9 0.8 M12 2.6 L13.1 0.8" stroke="#fff" stroke-width="0.8"/><rect x="4.2" y="6.3" width="9.6" height="8.2" rx="0.8" fill="#fff"/><rect x="1.4" y="6.3" width="2.1" height="6.2" rx="1" fill="#fff"/><rect x="14.5" y="6.3" width="2.1" height="6.2" rx="1" fill="#fff"/><rect x="5.8" y="13" width="2.2" height="5.6" rx="1" fill="#fff"/><rect x="10" y="13" width="2.2" height="5.6" rx="1" fill="#fff"/><circle cx="7" cy="4" r="0.55" fill="#34c0cf"/><circle cx="11" cy="4" r="0.55" fill="#34c0cf"/></svg></div><div class="abs bun" style="left:78px;top:364.40px">Android</div><div class="abs buv" style="right:118.5px;top:364.40px">15,453</div><svg class="abs fi" style="left:422.85px;top:365.05px;color:#f82649;stroke-width:2.2" width="18" height="18" viewBox="0 0 24 24"><polyline points="5 12 12 19 19 12"/><line x1="12" y1="5" x2="12" y2="19"/></svg><div class="abs bup" style="right:24.5px;top:368.90px;color:#f82649">23.70%</div>
</div>
<div class="card" style="left:1248px;top:819.5px;width:529px;height:419.5px">
<div class="ch2"><div class="t">Daily Activity</div></div>
<div class="abs" style="left:40px;top:86.5px;width:1px;height:275px;background:#e3e5ee"></div>
<div class="abs dad" style="left:35.5px;top:80.50px;background:#6259ca"></div><div class="abs dat" style="left:80.5px;top:75.20px">Task Finished<span>29 Oct 2020</span></div><div class="abs dax" style="left:80.5px;top:101.70px">Adam Berry finished task on <a>Project Management</a></div>
<div class="abs dad" style="left:35.5px;top:149.25px;background:#fc7303"></div><div class="abs dat" style="left:80.5px;top:143.95px">New Comment<span>25 Oct 2020</span></div><div class="abs dax" style="left:80.5px;top:170.45px">Victoria commented on Project <a>AngularJS Template</a></div>
<div class="abs dad" style="left:35.5px;top:218.00px;background:#6259ca"></div><div class="abs dat" style="left:80.5px;top:212.70px">New Comment<span>25 Oct 2020</span></div><div class="abs dax" style="left:80.5px;top:239.20px">Victoria commented on Project <a>AngularJS Template</a></div>
<div class="abs dad" style="left:35.5px;top:286.75px;background:#fc7303"></div><div class="abs dat" style="left:80.5px;top:281.45px">Task Overdue<span>14 Oct 2020</span></div><div class="abs dax" style="left:80.5px;top:307.95px">Petey Cruiser finished task <a>Integrated management</a></div>
<div class="abs dad" style="left:35.5px;top:355.50px;background:#6259ca"></div><div class="abs dat" style="left:80.5px;top:350.20px">Task Overdue<span>29 Oct 2020</span></div><div class="abs dax" style="left:80.5px;top:376.70px">Petey Cruiser finished task <a>Integrated management</a></div>
</div>
<!-- table -->
<div class="card" style="left:143px;top:1262.7px;width:1634px;height:800px">
<div class="ch2" style="height:50px"><div class="t" style="top:16px">Product Sales</div></div>
<div class="abs t14" style="left:25.3px;top:86.60px;color:#343747">Show</div><div class="abs" style="left:63.5px;top:75.80px;width:58.5px;height:36.7px;border:1px solid #ecedf3;border-radius:3px"></div><div class="abs t14" style="left:74.3px;top:87.70px;color:#343747">10</div><svg class="abs" style="left:101.9px;top:92.90px" width="7" height="4"><path d="M0 0 H7 L3.5 4Z" fill="#d3d5dd"/></svg><div class="abs t14" style="left:127px;top:86.60px;color:#343747">entries</div><div class="abs" style="left:1432.2px;top:76.00px;width:176.4px;height:30.1px;border:1px solid #e8e9f0;border-radius:5px"></div><div class="abs t14" style="left:1440.6px;top:84.00px;color:#737a8c">Search...</div>
<div class="abs" style="left:25.3px;top:127.80px;width:1583.7px;height:1px;background:#e8e9ef"></div><div class="abs" style="left:25.3px;top:173.90px;width:1583.7px;height:1px;background:#e8e9ef"></div><div class="abs" style="left:25.3px;top:243.39px;width:1583.7px;height:1px;background:#e8e9ef"></div><div class="abs" style="left:25.3px;top:312.88px;width:1583.7px;height:1px;background:#e8e9ef"></div><div class="abs" style="left:25.3px;top:382.37px;width:1583.7px;height:1px;background:#e8e9ef"></div><div class="abs" style="left:25.3px;top:451.86px;width:1583.7px;height:1px;background:#e8e9ef"></div><div class="abs" style="left:25.3px;top:521.35px;width:1583.7px;height:1px;background:#e8e9ef"></div><div class="abs" style="left:25.3px;top:590.84px;width:1583.7px;height:1px;background:#e8e9ef"></div><div class="abs" style="left:25.3px;top:660.33px;width:1583.7px;height:1px;background:#e8e9ef"></div><div class="abs" style="left:25.3px;top:729.82px;width:1583.7px;height:1px;background:#e8e9ef"></div><div class="abs" style="left:25.3px;top:127.80px;width:1px;height:603.0px;background:#e8e9ef"></div><div class="abs" style="left:103.3px;top:127.80px;width:1px;height:603.0px;background:#e8e9ef"></div><div class="abs" style="left:620.6px;top:127.80px;width:1px;height:603.0px;background:#e8e9ef"></div><div class="abs" style="left:865.4px;top:127.80px;width:1px;height:603.0px;background:#e8e9ef"></div><div class="abs" style="left:1107.2px;top:127.80px;width:1px;height:603.0px;background:#e8e9ef"></div><div class="abs" style="left:1331.4px;top:127.80px;width:1px;height:603.0px;background:#e8e9ef"></div><div class="abs" style="left:1608.0px;top:127.80px;width:1px;height:603.0px;background:#e8e9ef"></div>
<div class="abs th" style="left:38.3px;top:143.20px">S.NO</div><svg class="abs" style="left:83.0px;top:144.80px" width="13" height="13" viewBox="0 0 13 13" fill="none" stroke-width="1.1"><path d="M2.5 1 V12.3 M0.3 3.4 L2.5 0.9 L4.7 3.4" stroke="#55596a"/><path d="M9.5 0.5 V11.7 M7.3 9.3 L9.5 11.8 L11.7 9.3" stroke="#d2d3d9"/></svg><div class="abs th" style="left:116.7px;top:143.20px">NAME</div><svg class="abs" style="left:600.3px;top:144.80px" width="13" height="13" viewBox="0 0 13 13" fill="none" stroke-width="1.1"><path d="M2.5 1 V12.3 M0.3 3.4 L2.5 0.9 L4.7 3.4" stroke="#d2d3d9"/><path d="M9.5 0.5 V11.7 M7.3 9.3 L9.5 11.8 L11.7 9.3" stroke="#d2d3d9"/></svg><div class="abs th" style="left:632.8px;top:143.20px">DATE</div><svg class="abs" style="left:845.1px;top:144.80px" width="13" height="13" viewBox="0 0 13 13" fill="none" stroke-width="1.1"><path d="M2.5 1 V12.3 M0.3 3.4 L2.5 0.9 L4.7 3.4" stroke="#d2d3d9"/><path d="M9.5 0.5 V11.7 M7.3 9.3 L9.5 11.8 L11.7 9.3" stroke="#d2d3d9"/></svg><div class="abs th" style="left:878.4px;top:143.20px">AMOUNT</div><svg class="abs" style="left:1086.9px;top:144.80px" width="13" height="13" viewBox="0 0 13 13" fill="none" stroke-width="1.1"><path d="M2.5 1 V12.3 M0.3 3.4 L2.5 0.9 L4.7 3.4" stroke="#d2d3d9"/><path d="M9.5 0.5 V11.7 M7.3 9.3 L9.5 11.8 L11.7 9.3" stroke="#d2d3d9"/></svg><div class="abs th" style="left:1120.2px;top:143.20px">STATUS</div><svg class="abs" style="left:1311.1px;top:144.80px" width="13" height="13" viewBox="0 0 13 13" fill="none" stroke-width="1.1"><path d="M2.5 1 V12.3 M0.3 3.4 L2.5 0.9 L4.7 3.4" stroke="#d2d3d9"/><path d="M9.5 0.5 V11.7 M7.3 9.3 L9.5 11.8 L11.7 9.3" stroke="#d2d3d9"/></svg><div class="abs th" style="left:1343.7px;top:143.20px">ACTION</div><svg class="abs" style="left:1587.7px;top:144.80px" width="13" height="13" viewBox="0 0 13 13" fill="none" stroke-width="1.1"><path d="M2.5 1 V12.3 M0.3 3.4 L2.5 0.9 L4.7 3.4" stroke="#d2d3d9"/><path d="M9.5 0.5 V11.7 M7.3 9.3 L9.5 11.8 L11.7 9.3" stroke="#d2d3d9"/></svg>
<div class="abs tno" style="left:54.8px;top:189.80px">01.</div><div class="abs" style="left:116.2px;top:190.70px;width:40px;height:40px"><svg width="40" height="40" viewBox="0 0 40 40"><defs><clipPath id="cbeard8f8e95"><circle cx="20" cy="20" r="20"/></clipPath></defs><g clip-path="url(#cbeard8f8e95)"><rect width="40" height="40" fill="#8f8e95"/><path d="M4 41 C5 33 11 30.5 20 30.5 C29 30.5 35 33 36 41Z" fill="#1c1c22"/><path d="M16.5 30.8 L20 37 L23.5 30.8Z" fill="#f4f4f4"/><rect x="17" y="24" width="6" height="7.5" fill="#e3bfa6" opacity="0.9"/><ellipse cx="20" cy="18.5" rx="6.3" ry="8" fill="#e3bfa6"/><path d="M13.2 17 C12.5 10 15.5 7.5 20 7.5 C24.5 7.5 27.5 10 26.8 17 C26 13 24 12 20 12.2 C16 12 14 13 13.2 17Z" fill="#1f1a18"/><path d="M14 20 C14.5 25 17 27 20 27 C23 27 25.5 25 26 20 C25 23 23 23.5 20 23.5 C17 23.5 15 23 14 20Z" fill="#1f1a18" opacity="0.85"/><circle cx="17.6" cy="18" r="0.8" fill="#3a2a22"/><circle cx="22.4" cy="18" r="0.8" fill="#3a2a22"/></g></svg></div><div class="abs tnm" style="left:164.3px;top:193.90px">Jake poole</div><div class="abs tem" style="left:164.3px;top:214.00px">jacke123@gmail.com</div><div class="abs tdt" style="left:632.8px;top:189.40px">20-11-2020</div><div class="abs tdt" style="left:877.8px;top:189.40px">$5.321.2</div><div class="abs tst" style="left:1119.6px;top:189.40px;color:#09ad95">Success</div><div class="abs abtn" style="left:1343.7px;top:187.10px;background:#6259ca"><svg class="fi" width="14" height="14" viewBox="0 0 24 24" style="color:#fff;stroke-width:2.7"><path d="M16.5 3.5a2.5 2.5 0 0 1 3.5 3.5L7.5 19.5 3 21l1.5-4.5L16.5 3.5z"/></svg></div><div class="abs abtn" style="left:1394.9px;top:187.10px;background:#f82649"><svg class="fi" width="14" height="14" viewBox="0 0 24 24" style="color:#fff;stroke-width:2.8"><polyline points="4 6 20 6"/><path d="M18 6v13.5a2 2 0 0 1-2 2H8a2 2 0 0 1-2-2V6m3 0V4a1.5 1.5 0 0 1 1.5-1.5h3A1.5 1.5 0 0 1 15 4v2"/></svg></div>
<div class="abs tno" style="left:54.8px;top:259.29px">02.</div><div class="abs" style="left:116.2px;top:260.19px;width:40px;height:40px"><svg width="40" height="40" viewBox="0 0 40 40"><defs><clipPath id="clongd9d4cc"><circle cx="20" cy="20" r="20"/></clipPath></defs><g clip-path="url(#clongd9d4cc)"><rect width="40" height="40" fill="#d9d4cc"/><path d="M20 5 C11 5 8.5 12 9 20 C9.5 28 6 34 9 41 H31 C34 34 30.5 28 31 20 C31.5 12 29 5 20 5Z" fill="#d8a766"/><path d="M4 41 C5 33 11 30.5 20 30.5 C29 30.5 35 33 36 41Z" fill="#2a2320"/><path d="M16.5 30.8 L20 37 L23.5 30.8Z" fill="#2a2320"/><rect x="17" y="24" width="6" height="7.5" fill="#efcdb6" opacity="0.9"/><ellipse cx="20" cy="18.5" rx="6.3" ry="8" fill="#efcdb6"/><path d="M13 18 C12.5 11 16 9 20 9 C24 9 27.5 11 27 18 C25 13.5 22 12.5 19 12.5 C16 12.5 14.5 14 13 18Z" fill="#d8a766"/><circle cx="17.6" cy="18" r="0.8" fill="#3a2a22"/><circle cx="22.4" cy="18" r="0.8" fill="#3a2a22"/><ellipse cx="20" cy="10.5" rx="15" ry="3.2" fill="#1b1b1d" transform="rotate(-12 20 10.5)"/><path d="M12 10 C12 3 28 2 28 9 Z" fill="#1b1b1d"/></g></svg></div><div class="abs tnm" style="left:164.3px;top:263.39px">Virginia Gray</div><div class="abs tem" style="left:164.3px;top:283.49px">virginia456@gmail.com</div><div class="abs tdt" style="left:632.8px;top:258.89px">20-11-2020</div><div class="abs tdt" style="left:877.8px;top:258.89px">$53,3654</div><div class="abs tst" style="left:1119.6px;top:258.89px;color:#09ad95">Success</div><div class="abs abtn" style="left:1343.7px;top:256.59px;background:#6259ca"><svg class="fi" width="14" height="14" viewBox="0 0 24 24" style="color:#fff;stroke-width:2.7"><path d="M16.5 3.5a2.5 2.5 0 0 1 3.5 3.5L7.5 19.5 3 21l1.5-4.5L16.5 3.5z"/></svg></div><div class="abs abtn" style="left:1394.9px;top:256.59px;background:#f82649"><svg class="fi" width="14" height="14" viewBox="0 0 24 24" style="color:#fff;stroke-width:2.8"><polyline points="4 6 20 6"/><path d="M18 6v13.5a2 2 0 0 1-2 2H8a2 2 0 0 1-2-2V6m3 0V4a1.5 1.5 0 0 1 1.5-1.5h3A1.5 1.5 0 0 1 15 4v2"/></svg></div>
<div class="abs tno" style="left:54.8px;top:328.78px">03.</div><div class="abs" style="left:116.2px;top:329.68px;width:40px;height:40px"><svg width="40" height="40" viewBox="0 0 40 40"><defs><clipPath id="cbeard23262c"><circle cx="20" cy="20" r="20"/></clipPath></defs><g clip-path="url(#cbeard23262c)"><rect width="40" height="40" fill="#23262c"/><path d="M4 41 C5 33 11 30.5 20 30.5 C29 30.5 35 33 36 41Z" fill="#4e5f7c"/><path d="M16.5 30.8 L20 37 L23.5 30.8Z" fill="#8fa9d6"/><rect x="17" y="24" width="6" height="7.5" fill="#d9ae92" opacity="0.9"/><ellipse cx="20" cy="18.5" rx="6.3" ry="8" fill="#d9ae92"/><path d="M13.2 17 C12.5 10 15.5 7.5 20 7.5 C24.5 7.5 27.5 10 26.8 17 C26 13 24 12 20 12.2 C16 12 14 13 13.2 17Z" fill="#5a3b28"/><path d="M14 20 C14.5 25 17 27 20 27 C23 27 25.5 25 26 20 C25 23 23 23.5 20 23.5 C17 23.5 15 23 14 20Z" fill="#5a3b28" opacity="0.85"/><circle cx="17.6" cy="18" r="0.8" fill="#3a2a22"/><circle cx="22.4" cy="18" r="0.8" fill="#3a2a22"/></g></svg></div><div class="abs tnm" style="left:164.3px;top:332.88px">Jacob Thomson</div><div class="abs tem" style="left:164.3px;top:352.98px">jacobthomson@gmail.com</div><div class="abs tdt" style="left:632.8px;top:328.38px">20-11-2020</div><div class="abs tdt" style="left:877.8px;top:328.38px">$1,56,3654</div><div class="abs tst" style="left:1119.6px;top:328.38px;color:#6259ca">Pending</div><div class="abs abtn" style="left:1343.7px;top:326.08px;background:#6259ca"><svg class="fi" width="14" height="14" viewBox="0 0 24 24" style="color:#fff;stroke-width:2.7"><path d="M16.5 3.5a2.5 2.5 0 0 1 3.5 3.5L7.5 19.5 3 21l1.5-4.5L16.5 3.5z"/></svg></div><div class="abs abtn" style="left:1394.9px;top:326.08px;background:#f82649"><svg class="fi" width="14" height="14" viewBox="0 0 24 24" style="color:#fff;stroke-width:2.8"><polyline points="4 6 20 6"/><path d="M18 6v13.5a2 2 0 0 1-2 2H8a2 2 0 0 1-2-2V6m3 0V4a1.5 1.5 0 0 1 1.5-1.5h3A1.5 1.5 0 0 1 15 4v2"/></svg></div>
<div class="abs tno" style="left:54.8px;top:398.27px">04.</div><div class="abs" style="left:116.2px;top:399.17px;width:40px;height:40px"><svg width="40" height="40" viewBox="0 0 40 40"><defs><clipPath id="cshort6d7f5e"><circle cx="20" cy="20" r="20"/></clipPath></defs><g clip-path="url(#cshort6d7f5e)"><rect width="40" height="40" fill="#6d7f5e"/><path d="M4 41 C5 33 11 30.5 20 30.5 C29 30.5 35 33 36 41Z" fill="#b23a4a"/><path d="M16.5 30.8 L20 37 L23.5 30.8Z" fill="#f2e2e4"/><rect x="17" y="24" width="6" height="7.5" fill="#e2b598" opacity="0.9"/><ellipse cx="20" cy="18.5" rx="6.3" ry="8" fill="#e2b598"/><path d="M13.2 17 C12.5 10 15.5 7.5 20 7.5 C24.5 7.5 27.5 10 26.8 17 C26 13 24 12 20 12.2 C16 12 14 13 13.2 17Z" fill="#4a2e20"/><circle cx="17.6" cy="18" r="0.8" fill="#3a2a22"/><circle cx="22.4" cy="18" r="0.8" fill="#3a2a22"/></g></svg></div><div class="abs tnm" style="left:164.3px;top:402.37px">Trevor Thomson</div><div class="abs tem" style="left:164.3px;top:422.47px">trevor@gmail.com</div><div class="abs tdt" style="left:632.8px;top:397.87px">19-11-2020</div><div class="abs tdt" style="left:877.8px;top:397.87px">$12.3</div><div class="abs tst" style="left:1119.6px;top:397.87px;color:#09ad95">Success</div><div class="abs abtn" style="left:1343.7px;top:395.57px;background:#6259ca"><svg class="fi" width="14" height="14" viewBox="0 0 24 24" style="color:#fff;stroke-width:2.7"><path d="M16.5 3.5a2.5 2.5 0 0 1 3.5 3.5L7.5 19.5 3 21l1.5-4.5L16.5 3.5z"/></svg></div><div class="abs abtn" style="left:1394.9px;top:395.57px;background:#f82649"><svg class="fi" width="14" height="14" viewBox="0 0 24 24" style="color:#fff;stroke-width:2.8"><polyline points="4 6 20 6"/><path d="M18 6v13.5a2 2 0 0 1-2 2H8a2 2 0 0 1-2-2V6m3 0V4a1.5 1.5 0 0 1 1.5-1.5h3A1.5 1.5 0 0 1 15 4v2"/></svg></div>
<div class="abs tno" style="left:54.8px;top:467.76px">05.</div><div class="abs" style="left:116.2px;top:468.66px;width:40px;height:40px"><svg width="40" height="40" viewBox="0 0 40 40"><defs><clipPath id="clongc9d3c0"><circle cx="20" cy="20" r="20"/></clipPath></defs><g clip-path="url(#clongc9d3c0)"><rect width="40" height="40" fill="#c9d3c0"/><path d="M20 5 C11 5 8.5 12 9 20 C9.5 28 6 34 9 41 H31 C34 34 30.5 28 31 20 C31.5 12 29 5 20 5Z" fill="#dcb277"/><path d="M4 41 C5 33 11 30.5 20 30.5 C29 30.5 35 33 36 41Z" fill="#dcd2c0"/><path d="M16.5 30.8 L20 37 L23.5 30.8Z" fill="#ddd"/><rect x="17" y="24" width="6" height="7.5" fill="#f1cfb8" opacity="0.9"/><ellipse cx="20" cy="18.5" rx="6.3" ry="8" fill="#f1cfb8"/><path d="M13 18 C12.5 11 16 9 20 9 C24 9 27.5 11 27 18 C25 13.5 22 12.5 19 12.5 C16 12.5 14.5 14 13 18Z" fill="#dcb277"/><circle cx="17.6" cy="18" r="0.8" fill="#3a2a22"/><circle cx="22.4" cy="18" r="0.8" fill="#3a2a22"/><path d="M11.5 15 C11 5 29 4 28.5 15 C25 11 15 11 11.5 15Z" fill="#e6dccb"/></g></svg></div><div class="abs tnm" style="left:164.3px;top:471.86px">Kylie north</div><div class="abs tem" style="left:164.3px;top:491.96px">kylie@gmail.com</div><div class="abs tdt" style="left:632.8px;top:467.36px">19-11-2020</div><div class="abs tdt" style="left:877.8px;top:467.36px">$5.312.2</div><div class="abs tst" style="left:1119.6px;top:467.36px;color:#6259ca">Pending</div><div class="abs abtn" style="left:1343.7px;top:465.06px;background:#6259ca"><svg class="fi" width="14" height="14" viewBox="0 0 24 24" style="color:#fff;stroke-width:2.7"><path d="M16.5 3.5a2.5 2.5 0 0 1 3.5 3.5L7.5 19.5 3 21l1.5-4.5L16.5 3.5z"/></svg></div><div class="abs abtn" style="left:1394.9px;top:465.06px;background:#f82649"><svg class="fi" width="14" height="14" viewBox="0 0 24 24" style="color:#fff;stroke-width:2.8"><polyline points="4 6 20 6"/><path d="M18 6v13.5a2 2 0 0 1-2 2H8a2 2 0 0 1-2-2V6m3 0V4a1.5 1.5 0 0 1 1.5-1.5h3A1.5 1.5 0 0 1 15 4v2"/></svg></div>
<div class="abs tno" style="left:54.8px;top:537.25px">06.</div><div class="abs" style="left:116.2px;top:538.15px;width:40px;height:40px"><svg width="40" height="40" viewBox="0 0 40 40"><defs><clipPath id="cshortdfe3e2"><circle cx="20" cy="20" r="20"/></clipPath></defs><g clip-path="url(#cshortdfe3e2)"><rect width="40" height="40" fill="#dfe3e2"/><path d="M4 41 C5 33 11 30.5 20 30.5 C29 30.5 35 33 36 41Z" fill="#7a5a48"/><path d="M16.5 30.8 L20 37 L23.5 30.8Z" fill="#c9a68c"/><rect x="17" y="24" width="6" height="7.5" fill="#dcae90" opacity="0.9"/><ellipse cx="20" cy="18.5" rx="6.3" ry="8" fill="#dcae90"/><path d="M13.2 17 C12.5 10 15.5 7.5 20 7.5 C24.5 7.5 27.5 10 26.8 17 C26 13 24 12 20 12.2 C16 12 14 13 13.2 17Z" fill="#4a3c34"/><circle cx="17.6" cy="18" r="0.8" fill="#3a2a22"/><circle cx="22.4" cy="18" r="0.8" fill="#3a2a22"/></g></svg></div><div class="abs tnm" style="left:164.3px;top:541.35px">Jan Hodges</div><div class="abs tem" style="left:164.3px;top:561.45px">jan@gmail.com</div><div class="abs tdt" style="left:632.8px;top:536.85px">19-11-2020</div><div class="abs tdt" style="left:877.8px;top:536.85px">$5.312.2</div><div class="abs tst" style="left:1119.6px;top:536.85px;color:#f82649">Cancel</div><div class="abs abtn" style="left:1343.7px;top:534.55px;background:#6259ca"><svg class="fi" width="14" height="14" viewBox="0 0 24 24" style="color:#fff;stroke-width:2.7"><path d="M16.5 3.5a2.5 2.5 0 0 1 3.5 3.5L7.5 19.5 3 21l1.5-4.5L16.5 3.5z"/></svg></div><div class="abs abtn" style="left:1394.9px;top:534.55px;background:#f82649"><svg class="fi" width="14" height="14" viewBox="0 0 24 24" style="color:#fff;stroke-width:2.8"><polyline points="4 6 20 6"/><path d="M18 6v13.5a2 2 0 0 1-2 2H8a2 2 0 0 1-2-2V6m3 0V4a1.5 1.5 0 0 1 1.5-1.5h3A1.5 1.5 0 0 1 15 4v2"/></svg></div>
<div class="abs tno" style="left:54.8px;top:606.74px">07.</div><div class="abs" style="left:116.2px;top:607.64px;width:40px;height:40px"><svg width="40" height="40" viewBox="0 0 40 40"><defs><clipPath id="clong4c5a2c"><circle cx="20" cy="20" r="20"/></clipPath></defs><g clip-path="url(#clong4c5a2c)"><rect width="40" height="40" fill="#4c5a2c"/><path d="M20 5 C11 5 8.5 12 9 20 C9.5 28 6 34 9 41 H31 C34 34 30.5 28 31 20 C31.5 12 29 5 20 5Z" fill="#8b6440"/><path d="M4 41 C5 33 11 30.5 20 30.5 C29 30.5 35 33 36 41Z" fill="#1e2a4e"/><path d="M16.5 30.8 L20 37 L23.5 30.8Z" fill="#1e2a4e"/><rect x="17" y="24" width="6" height="7.5" fill="#ecc4a8" opacity="0.9"/><ellipse cx="20" cy="18.5" rx="6.3" ry="8" fill="#ecc4a8"/><path d="M13 18 C12.5 11 16 9 20 9 C24 9 27.5 11 27 18 C25 13.5 22 12.5 19 12.5 C16 12.5 14.5 14 13 18Z" fill="#8b6440"/><circle cx="17.6" cy="18" r="0.8" fill="#3a2a22"/><circle cx="22.4" cy="18" r="0.8" fill="#3a2a22"/></g></svg></div><div class="abs tnm" style="left:164.3px;top:610.84px">Trevor Thomson</div><div class="abs tem" style="left:164.3px;top:630.94px">trevor@gmail.com</div><div class="abs tdt" style="left:632.8px;top:606.34px">19-11-2020</div><div class="abs tdt" style="left:877.8px;top:606.34px">$2,24,1421</div><div class="abs tst" style="left:1119.6px;top:606.34px;color:#09ad95">Success</div><div class="abs abtn" style="left:1343.7px;top:604.04px;background:#6259ca"><svg class="fi" width="14" height="14" viewBox="0 0 24 24" style="color:#fff;stroke-width:2.7"><path d="M16.5 3.5a2.5 2.5 0 0 1 3.5 3.5L7.5 19.5 3 21l1.5-4.5L16.5 3.5z"/></svg></div><div class="abs abtn" style="left:1394.9px;top:604.04px;background:#f82649"><svg class="fi" width="14" height="14" viewBox="0 0 24 24" style="color:#fff;stroke-width:2.8"><polyline points="4 6 20 6"/><path d="M18 6v13.5a2 2 0 0 1-2 2H8a2 2 0 0 1-2-2V6m3 0V4a1.5 1.5 0 0 1 1.5-1.5h3A1.5 1.5 0 0 1 15 4v2"/></svg></div>
<div class="abs tno" style="left:54.8px;top:676.23px">08.</div><div class="abs" style="left:116.2px;top:677.13px;width:40px;height:40px"><svg width="40" height="40" viewBox="0 0 40 40"><defs><clipPath id="clongf08aa8"><circle cx="20" cy="20" r="20"/></clipPath></defs><g clip-path="url(#clongf08aa8)"><rect width="40" height="40" fill="#f08aa8"/><path d="M20 5 C11 5 8.5 12 9 20 C9.5 28 6 34 9 41 H31 C34 34 30.5 28 31 20 C31.5 12 29 5 20 5Z" fill="#3a2420"/><path d="M4 41 C5 33 11 30.5 20 30.5 C29 30.5 35 33 36 41Z" fill="#b8c8ee"/><path d="M16.5 30.8 L20 37 L23.5 30.8Z" fill="#eef"/><rect x="17" y="24" width="6" height="7.5" fill="#f0cdb8" opacity="0.9"/><ellipse cx="20" cy="18.5" rx="6.3" ry="8" fill="#f0cdb8"/><path d="M13 18 C12.5 11 16 9 20 9 C24 9 27.5 11 27 18 C25 13.5 22 12.5 19 12.5 C16 12.5 14.5 14 13 18Z" fill="#3a2420"/><circle cx="17.6" cy="18" r="0.8" fill="#3a2a22"/><circle cx="22.4" cy="18" r="0.8" fill="#3a2a22"/></g></svg></div><div class="abs tnm" style="left:164.3px;top:680.33px">Emily Lewis</div><div class="abs tem" style="left:164.3px;top:700.43px">emily@gmail.com</div><div class="abs tdt" style="left:632.8px;top:675.83px">19-11-2020</div><div class="abs tdt" style="left:877.8px;top:675.83px">$9.321.2</div><div class="abs tst" style="left:1119.6px;top:675.83px;color:#f82649">Cancel</div><div class="abs abtn" style="left:1343.7px;top:673.53px;background:#6259ca"><svg class="fi" width="14" height="14" viewBox="0 0 24 24" style="color:#fff;stroke-width:2.7"><path d="M16.5 3.5a2.5 2.5 0 0 1 3.5 3.5L7.5 19.5 3 21l1.5-4.5L16.5 3.5z"/></svg></div><div class="abs abtn" style="left:1394.9px;top:673.53px;background:#f82649"><svg class="fi" width="14" height="14" viewBox="0 0 24 24" style="color:#fff;stroke-width:2.8"><polyline points="4 6 20 6"/><path d="M18 6v13.5a2 2 0 0 1-2 2H8a2 2 0 0 1-2-2V6m3 0V4a1.5 1.5 0 0 1 1.5-1.5h3A1.5 1.5 0 0 1 15 4v2"/></svg></div>
<div class="abs t14" style="left:25.3px;top:749.90px;color:#343747">Showing 1 to 8 of 8 entries</div><div class="abs" style="left:1443px;top:738.60px;width:165.2px;height:38px;border:1px solid #e9ebf2;border-radius:3px;overflow:hidden"><div class="abs" style="left:77px;top:0;width:34px;height:38px;background:#6259ca"></div><div class="abs" style="left:111px;top:0;width:1px;height:38px;background:#e8e9ef"></div><div class="abs t14" style="left:12px;top:10px;color:#a4a8b8">Previous</div><div class="abs t14" style="left:90px;top:10px;color:#fff">1</div><div class="abs t14" style="left:124px;top:10px;color:#a4a8b8">Next</div></div></div>
<!--CONTENT5-->
<div class="abs" style="left:1900px;top:0;width:20px;height:2016px;background:linear-gradient(90deg,rgba(130,130,150,0) 0,rgba(130,130,150,0.13) 100%)"></div>


</body></html>
